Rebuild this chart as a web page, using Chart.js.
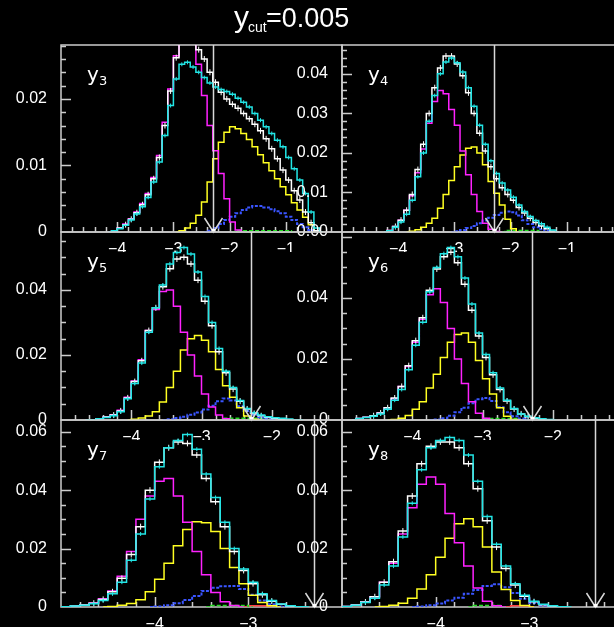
<!DOCTYPE html>
<html lang="en">
<head>
<meta charset="UTF-8">
<title>y_cut = 0.005</title>
<script src="https://cdn.jsdelivr.net/npm/chart.js@4.4.1/dist/chart.umd.min.js"></script>
<style>
  html, body { margin: 0; padding: 0; background: #000; overflow: hidden; }
  #page { position: relative; width: 614px; height: 627px; overflow: hidden; background: #000; }
  #page canvas { position: absolute; left: 0; top: 0; }
</style>
</head>
<body>
<div id="page"></div>
<script>
const BIN = 0.1;          // histogram bin width in log10(y)
const Y_CUT = 0.005;

// order of the start values: white, cyan, magenta, yellow, blue, green, red

// ---- y3 ----
const y3Start   = [-4.05, -4.05, -4.05, -2.85, -2.35, -1.85];
const y3White   = [0.0002, 0.0006, 0.0011, 0.0019, 0.0029, 0.0041, 0.0056, 0.0080, 0.0112, 0.0160, 0.0212, 0.0262, 0.0288, 0.0292, 0.0286, 0.0274, 0.0260, 0.0240, 0.0225, 0.0210, 0.0200, 0.0192, 0.0186, 0.0178, 0.0170, 0.0162, 0.0152, 0.0140, 0.0125, 0.0110, 0.0093, 0.0078, 0.0062, 0.0048, 0.0030, 0.0014, 0.0002];
const y3Cyan    = [0.0002, 0.0005, 0.0010, 0.0018, 0.0027, 0.0038, 0.0052, 0.0075, 0.0105, 0.0145, 0.0190, 0.0230, 0.0252, 0.0255, 0.0248, 0.0240, 0.0232, 0.0224, 0.0218, 0.0214, 0.0211, 0.0207, 0.0201, 0.0195, 0.0188, 0.0178, 0.0168, 0.0158, 0.0148, 0.0138, 0.0128, 0.0112, 0.0095, 0.0078, 0.0058, 0.0030, 0.0006];
const y3Magenta = [0.0002, 0.0006, 0.0012, 0.0020, 0.0030, 0.0043, 0.0058, 0.0082, 0.0115, 0.0165, 0.0215, 0.0265, 0.0292, 0.0300, 0.0290, 0.0252, 0.0205, 0.0160, 0.0122, 0.0088, 0.0050, 0.0015, 0.0003];
const y3Yellow  = [0.0002, 0.0006, 0.0013, 0.0025, 0.0045, 0.0075, 0.0110, 0.0135, 0.0150, 0.0158, 0.0155, 0.0148, 0.0139, 0.0128, 0.0116, 0.0104, 0.0092, 0.0080, 0.0068, 0.0056, 0.0044, 0.0033, 0.0022, 0.0011, 0.0002];
const y3Blue    = [0.0002, 0.0006, 0.0012, 0.0018, 0.0023, 0.0028, 0.0033, 0.0037, 0.0039, 0.0039, 0.0037, 0.0034, 0.0031, 0.0028, 0.0023, 0.0018, 0.0012, 0.0007, 0.0003];
const y3Green   = [0.0002, 0.0002, 0.0002, 0.0002, 0.0002, 0.0002, 0.0002, 0.0002, 0.0002, 0.0002];

// ---- y4 ----
const y4Start   = [-4.15, -4.15, -4.15, -3.75, -2.95, -2.05];
const y4White   = [0.0004, 0.0014, 0.0030, 0.0055, 0.0095, 0.0158, 0.0222, 0.0300, 0.0365, 0.0415, 0.0445, 0.0445, 0.0425, 0.0395, 0.0352, 0.0300, 0.0250, 0.0205, 0.0165, 0.0135, 0.0112, 0.0095, 0.0080, 0.0062, 0.0048, 0.0035, 0.0024, 0.0015, 0.0008, 0.0002];
const y4Cyan    = [0.0003, 0.0012, 0.0025, 0.0045, 0.0080, 0.0140, 0.0200, 0.0280, 0.0345, 0.0400, 0.0430, 0.0440, 0.0428, 0.0405, 0.0365, 0.0318, 0.0270, 0.0222, 0.0180, 0.0148, 0.0124, 0.0106, 0.0088, 0.0068, 0.0052, 0.0039, 0.0029, 0.0021, 0.0012, 0.0005];
const y4Magenta = [0.0004, 0.0014, 0.0030, 0.0055, 0.0092, 0.0150, 0.0210, 0.0275, 0.0330, 0.0358, 0.0350, 0.0310, 0.0270, 0.0205, 0.0145, 0.0095, 0.0052, 0.0022, 0.0007, 0.0001];
const y4Yellow  = [0.0002, 0.0006, 0.0012, 0.0022, 0.0035, 0.0060, 0.0095, 0.0130, 0.0165, 0.0195, 0.0212, 0.0215, 0.0200, 0.0170, 0.0128, 0.0098, 0.0068, 0.0032, 0.0008];
const y4Blue    = [0.0002, 0.0005, 0.0010, 0.0015, 0.0022, 0.0029, 0.0036, 0.0043, 0.0049, 0.0052, 0.0050, 0.0042, 0.0030, 0.0020, 0.0012, 0.0007, 0.0003];
const y4Green   = [0.0004, 0.0004, 0.0004, 0.0004, 0.0004, 0.0004];

// ---- y5 ----
const y5Start   = [-4.55, -4.55, -4.55, -3.95, -3.45, -2.65];
const y5White   = [0.0001, 0.0004, 0.0009, 0.0015, 0.0028, 0.0068, 0.0118, 0.0182, 0.0275, 0.0345, 0.0410, 0.0465, 0.0495, 0.0500, 0.0480, 0.0430, 0.0365, 0.0290, 0.0210, 0.0145, 0.0095, 0.0058, 0.0034, 0.0020, 0.0013, 0.0008, 0.0005, 0.0003, 0.0001];
const y5Cyan    = [0.0001, 0.0004, 0.0008, 0.0013, 0.0025, 0.0065, 0.0112, 0.0175, 0.0270, 0.0345, 0.0415, 0.0480, 0.0515, 0.0530, 0.0510, 0.0455, 0.0380, 0.0300, 0.0220, 0.0150, 0.0100, 0.0060, 0.0035, 0.0022, 0.0015, 0.0010, 0.0007, 0.0005, 0.0003, 0.0001];
const y5Magenta = [0.0001, 0.0004, 0.0009, 0.0016, 0.0030, 0.0070, 0.0120, 0.0185, 0.0275, 0.0340, 0.0395, 0.0400, 0.0350, 0.0270, 0.0200, 0.0135, 0.0080, 0.0040, 0.0015, 0.0004];
const y5Yellow  = [0.0002, 0.0006, 0.0012, 0.0025, 0.0055, 0.0100, 0.0150, 0.0215, 0.0250, 0.0260, 0.0245, 0.0210, 0.0155, 0.0105, 0.0070, 0.0038, 0.0012, 0.0002];
const y5Blue    = [0.0002, 0.0006, 0.0010, 0.0016, 0.0023, 0.0032, 0.0044, 0.0058, 0.0066, 0.0060, 0.0042, 0.0028, 0.0016, 0.0008, 0.0003];
const y5Green   = [0.0005, 0.0005, 0.0005, 0.0005, 0.0005, 0.0005];

// ---- y6 ----
const y6Start   = [-4.75, -4.75, -4.75, -4.25, -3.65, -2.95];
const y6White   = [0.0005, 0.0009, 0.0014, 0.0023, 0.0040, 0.0072, 0.0110, 0.0178, 0.0260, 0.0335, 0.0425, 0.0495, 0.0535, 0.0550, 0.0515, 0.0445, 0.0360, 0.0275, 0.0205, 0.0148, 0.0100, 0.0062, 0.0036, 0.0020, 0.0011, 0.0006, 0.0003];
const y6Cyan    = [0.0005, 0.0008, 0.0012, 0.0020, 0.0035, 0.0065, 0.0100, 0.0165, 0.0245, 0.0320, 0.0420, 0.0500, 0.0545, 0.0565, 0.0535, 0.0465, 0.0380, 0.0285, 0.0215, 0.0155, 0.0105, 0.0065, 0.0038, 0.0020, 0.0012, 0.0007, 0.0004, 0.0002];
const y6Magenta = [0.0005, 0.0009, 0.0014, 0.0023, 0.0040, 0.0070, 0.0110, 0.0175, 0.0255, 0.0330, 0.0410, 0.0430, 0.0385, 0.0300, 0.0200, 0.0120, 0.0060, 0.0022, 0.0006];
const y6Yellow  = [0.0002, 0.0006, 0.0015, 0.0035, 0.0060, 0.0105, 0.0150, 0.0205, 0.0255, 0.0280, 0.0285, 0.0255, 0.0195, 0.0135, 0.0085, 0.0040, 0.0012, 0.0002];
const y6Blue    = [0.0002, 0.0006, 0.0014, 0.0025, 0.0040, 0.0055, 0.0068, 0.0072, 0.0062, 0.0042, 0.0025, 0.0012, 0.0005, 0.0001];
const y6Green   = [0.0005, 0.0005, 0.0005, 0.0005, 0.0005];

// ---- y7 ----
const y7Start   = [-4.95, -4.95, -4.95, -4.45, -3.95, -3.35, -2.95];
const y7White   = [0.0001, 0.0003, 0.0007, 0.0013, 0.0026, 0.0052, 0.0098, 0.0180, 0.0275, 0.0400, 0.0495, 0.0545, 0.0565, 0.0560, 0.0520, 0.0440, 0.0360, 0.0275, 0.0190, 0.0125, 0.0080, 0.0042, 0.0020, 0.0009, 0.0003];
const y7Cyan    = [0.0001, 0.0003, 0.0006, 0.0011, 0.0022, 0.0045, 0.0085, 0.0160, 0.0250, 0.0370, 0.0480, 0.0545, 0.0570, 0.0590, 0.0540, 0.0455, 0.0375, 0.0290, 0.0200, 0.0130, 0.0085, 0.0045, 0.0022, 0.0010, 0.0004, 0.0001];
const y7Magenta = [0.0001, 0.0003, 0.0007, 0.0014, 0.0028, 0.0055, 0.0105, 0.0190, 0.0300, 0.0380, 0.0430, 0.0440, 0.0380, 0.0290, 0.0190, 0.0110, 0.0050, 0.0018, 0.0005];
const y7Yellow  = [0.0002, 0.0006, 0.0012, 0.0025, 0.0052, 0.0095, 0.0150, 0.0210, 0.0265, 0.0292, 0.0288, 0.0258, 0.0200, 0.0135, 0.0080, 0.0040, 0.0015, 0.0004];
const y7Blue    = [0.0002, 0.0006, 0.0013, 0.0024, 0.0038, 0.0055, 0.0066, 0.0071, 0.0072, 0.0062, 0.0042, 0.0022, 0.0009, 0.0002];
const y7Green   = [0.0005, 0.0005, 0.0005, 0.0005];
const y7Red     = [0.0004, 0.0004];

// ---- y8 ----
const y8Start   = [-4.95, -4.95, -4.95, -4.55, -4.15, -3.55, -3.15];
const y8White   = [0.0002, 0.0007, 0.0017, 0.0035, 0.0085, 0.0155, 0.0260, 0.0380, 0.0490, 0.0550, 0.0565, 0.0565, 0.0545, 0.0490, 0.0405, 0.0295, 0.0205, 0.0132, 0.0075, 0.0037, 0.0018, 0.0008, 0.0003];
const y8Cyan    = [0.0002, 0.0006, 0.0015, 0.0030, 0.0075, 0.0140, 0.0240, 0.0355, 0.0470, 0.0545, 0.0570, 0.0580, 0.0570, 0.0520, 0.0430, 0.0310, 0.0215, 0.0140, 0.0080, 0.0040, 0.0020, 0.0009, 0.0004, 0.0001];
const y8Magenta = [0.0002, 0.0007, 0.0017, 0.0035, 0.0085, 0.0150, 0.0250, 0.0340, 0.0420, 0.0445, 0.0420, 0.0320, 0.0220, 0.0140, 0.0065, 0.0020, 0.0004];
const y8Yellow  = [0.0002, 0.0006, 0.0013, 0.0030, 0.0062, 0.0110, 0.0170, 0.0235, 0.0285, 0.0302, 0.0275, 0.0205, 0.0120, 0.0060, 0.0022, 0.0005];
const y8Blue    = [0.0002, 0.0006, 0.0012, 0.0022, 0.0032, 0.0045, 0.0058, 0.0072, 0.0078, 0.0068, 0.0048, 0.0028, 0.0014, 0.0005];
const y8Green   = [0.0005, 0.0005, 0.0005];
const y8Red     = [0.0004, 0.0004];

// ---- axis ticks ----
const xTicksRow1 = [-4, -3, -2, -1];
const xTicksRow2 = [-4, -3, -2];
const xTicksRow3 = [-4, -3];
const yTicksY3 = [0, 0.01, 0.02];
const yLabelsY3 = ['0', '0.01', '0.02'];
const yTicksY4 = [0, 0.01, 0.02, 0.03, 0.04];
const yLabelsY4 = ['0.00', '0.01', '0.02', '0.03', '0.04'];
const yTicksRow2 = [0, 0.02, 0.04];
const yLabelsRow2 = ['0', '0.02', '0.04'];
const yTicksRow3 = [0, 0.02, 0.04, 0.06];
const yLabelsRow3 = ['0', '0.02', '0.04', '0.06'];

// ---- drawing ----
const CANVAS_W = 640, CANVAS_H = 627;
const Y_AXIS_W = 50, X_AXIS_H = 20;
const FRAME = '#cccccc';
const COL = {
    white: '#ffffff', cyan: '#22e6e6', magenta: '#ff22ff', yellow: '#ffff22',
    blue: '#3a55ff', green: '#22dd22', red: '#ff4040'
};

function hist(start, values) {
    const pts = [{ x: start - BIN, y: 0 }];
    values.forEach((v, i) => pts.push({ x: start + i * BIN, y: v }));
    pts.push({ x: start + values.length * BIN, y: 0 });
    return pts;
}

// small vertical marks at the bin centres stand in for the error bars
function errMarks(size) {
    return {
        pointStyle: 'line',
        rotation: 90,
        pointBorderWidth: 1,
        pointRadius: c => (c.raw && c.raw.y > 0.001 ? size : 0)
    };
}

function histSet(color, start, values, extra) {
    return Object.assign({
        data: hist(start, values),
        borderColor: color,
        borderWidth: 1.5,
        stepped: 'middle',
        pointRadius: 0,
        fill: false
    }, extra || {});
}

function seriesFor(start, w, c, m, yl, b, g, r) {
    const sets = [
        histSet(COL.cyan, start[1], c, errMarks(2)),
        histSet(COL.white, start[0], w, errMarks(3)),
        histSet(COL.magenta, start[2], m),
        histSet(COL.yellow, start[3], yl),
        histSet(COL.blue, start[4], b, { borderDash: [3, 1.5], borderWidth: 2 }),
        histSet(COL.green, start[5], g, { borderDash: [4, 2] })
    ];
    if (r) sets.push(histSet(COL.red, start[6], r));
    return sets;
}

const panels = [
    { sub: '3', box: [61, 45, 342, 232], x: [-5, 0], yMax: 0.0281, xTicks: xTicksRow1,
      yTicks: yTicksY3, yLabels: yLabelsY3, yMajor: 0.01, yMinor: 0.002,
      sets: seriesFor(y3Start, y3White, y3Cyan, y3Magenta, y3Yellow, y3Blue, y3Green) },
    { sub: '4', box: [342, 45, 623, 232], x: [-5, 0], yMax: 0.0473, xTicks: xTicksRow1,
      yTicks: yTicksY4, yLabels: yLabelsY4, yMajor: 0.01, yMinor: 0.002,
      sets: seriesFor(y4Start, y4White, y4Cyan, y4Magenta, y4Yellow, y4Blue, y4Green) },
    { sub: '5', box: [61, 232, 342, 420], x: [-5, -1], yMax: 0.0578, xTicks: xTicksRow2,
      yTicks: yTicksRow2, yLabels: yLabelsRow2, yMajor: 0.02, yMinor: 0.005,
      sets: seriesFor(y5Start, y5White, y5Cyan, y5Magenta, y5Yellow, y5Blue, y5Green) },
    { sub: '6', box: [342, 232, 623, 420], x: [-5, -1], yMax: 0.0616, xTicks: xTicksRow2,
      yTicks: yTicksRow2, yLabels: yLabelsRow2, yMajor: 0.02, yMinor: 0.005,
      sets: seriesFor(y6Start, y6White, y6Cyan, y6Magenta, y6Yellow, y6Blue, y6Green) },
    { sub: '7', box: [61, 420, 342, 607], x: [-5, -2], yMax: 0.064, xTicks: xTicksRow3,
      yTicks: yTicksRow3, yLabels: yLabelsRow3, yMajor: 0.02, yMinor: 0.005,
      sets: seriesFor(y7Start, y7White, y7Cyan, y7Magenta, y7Yellow, y7Blue, y7Green, y7Red) },
    { sub: '8', box: [342, 420, 623, 607], x: [-5, -2], yMax: 0.064, xTicks: xTicksRow3,
      yTicks: yTicksRow3, yLabels: yLabelsRow3, yMajor: 0.02, yMinor: 0.005,
      sets: seriesFor(y8Start, y8White, y8Cyan, y8Magenta, y8Yellow, y8Blue, y8Green, y8Red) }
];

// frame, inward ticks, cut line with arrow, panel name
const decor = {
    id: 'decor',
    beforeDatasetsDraw(chart) {
        const p = chart.options.plugins.decor;
        const { ctx, chartArea: a, scales: { x, y } } = chart;
        ctx.save();
        ctx.strokeStyle = FRAME;
        ctx.lineWidth = 1.5;
        ctx.strokeRect(a.left, a.top, a.right - a.left, a.bottom - a.top);
        ctx.beginPath();
        const ny = Math.floor(p.yMax / p.yMinor + 1e-6);
        for (let i = 1; i <= ny; i++) {
            const v = i * p.yMinor;
            const r = v / p.yMajor;
            const len = Math.abs(r - Math.round(r)) < 1e-6 ? 10 : 5;
            const py = Math.round(y.getPixelForValue(v)) + 0.5;
            ctx.moveTo(a.left, py);
            ctx.lineTo(a.left + len, py);
        }
        const nx = Math.round((x.max - x.min) / 0.2);
        for (let i = 1; i < nx; i++) {
            const v = x.min + i * 0.2;
            const len = Math.abs(v - Math.round(v)) < 1e-6 ? 10 : 5;
            const px = Math.round(x.getPixelForValue(v)) + 0.5;
            ctx.moveTo(px, a.bottom);
            ctx.lineTo(px, a.bottom - len);
        }
        ctx.stroke();
        ctx.restore();
    },
    afterDatasetsDraw(chart) {
        const p = chart.options.plugins.decor;
        const { ctx, chartArea: a, scales: { x } } = chart;
        const cx = Math.round(x.getPixelForValue(Math.log10(Y_CUT))) + 0.5;
        ctx.save();
        ctx.strokeStyle = '#d8d8d8';
        ctx.lineWidth = 1.5;
        ctx.beginPath();
        ctx.moveTo(cx, a.top);
        ctx.lineTo(cx, a.bottom);
        ctx.moveTo(cx - 9, a.bottom - 14);
        ctx.lineTo(cx, a.bottom);
        ctx.lineTo(cx + 9, a.bottom - 14);
        ctx.stroke();
        ctx.fillStyle = '#ffffff';
        ctx.fillRect(cx - 2, a.bottom - 3, 4, 3);

        ctx.fillStyle = '#ffffff';
        ctx.textBaseline = 'alphabetic';
        ctx.font = '20px "DejaVu Sans"';
        ctx.fillText('y', a.left + 26, a.top + 36);
        ctx.font = '13px "DejaVu Sans"';
        ctx.fillText(p.sub, a.left + 38, a.top + 40);

        if (p.title) {
            ctx.font = '30px "Liberation Sans"';
            ctx.fillText('y', 234, 27);
            ctx.font = '14px "Liberation Sans"';
            ctx.fillText('cut', 248, 32);
            ctx.font = '27px "Liberation Sans"';
            ctx.fillText('=0.005', 266, 27);
        }
        ctx.restore();
    }
};

const page = document.getElementById('page');
panels.forEach((p, idx) => {
    const canvas = document.createElement('canvas');
    canvas.width = CANVAS_W;
    canvas.height = CANVAS_H;
    page.appendChild(canvas);

    new Chart(canvas.getContext('2d'), {
        type: 'line',
        data: { datasets: p.sets },
        plugins: [decor],
        options: {
            responsive: false,
            animation: false,
            devicePixelRatio: 1,
            events: [],
            layout: {
                padding: {
                    left: p.box[0] - Y_AXIS_W,
                    top: p.box[1],
                    right: CANVAS_W - p.box[2],
                    bottom: CANVAS_H - p.box[3] - X_AXIS_H
                }
            },
            plugins: {
                legend: { display: false },
                tooltip: { enabled: false },
                decor: { sub: p.sub, yMajor: p.yMajor, yMinor: p.yMinor, yMax: p.yMax, title: idx === 0 }
            },
            scales: {
                x: {
                    type: 'linear',
                    min: p.x[0],
                    max: p.x[1],
                    afterBuildTicks: s => { s.ticks = p.xTicks.map(v => ({ value: v })); },
                    afterFit: s => { s.height = X_AXIS_H; },
                    grid: { display: true, color: 'transparent', drawOnChartArea: false, drawTicks: true, tickLength: 4 },
                    border: { display: false },
                    ticks: {
                        color: '#ffffff',
                        font: { family: 'Liberation Sans', size: 16 },
                        padding: 4,
                        maxRotation: 0,
                        autoSkip: false,
                        callback: v => (v < 0 ? '\u2212' + Math.abs(v) : String(v))
                    }
                },
                y: {
                    type: 'linear',
                    min: 0,
                    max: p.yMax,
                    afterBuildTicks: s => { s.ticks = p.yTicks.map(v => ({ value: v })); },
                    afterFit: s => { s.width = Y_AXIS_W; },
                    grid: { display: true, color: 'transparent', drawOnChartArea: false, drawTicks: true, tickLength: 10 },
                    border: { display: false },
                    ticks: {
                        color: '#ffffff',
                        font: { family: 'Liberation Sans', size: 16 },
                        padding: 4,
                        autoSkip: false,
                        callback: (v, i) => p.yLabels[i]
                    }
                }
            }
        }
    });
});
</script>
</body>
</html>
